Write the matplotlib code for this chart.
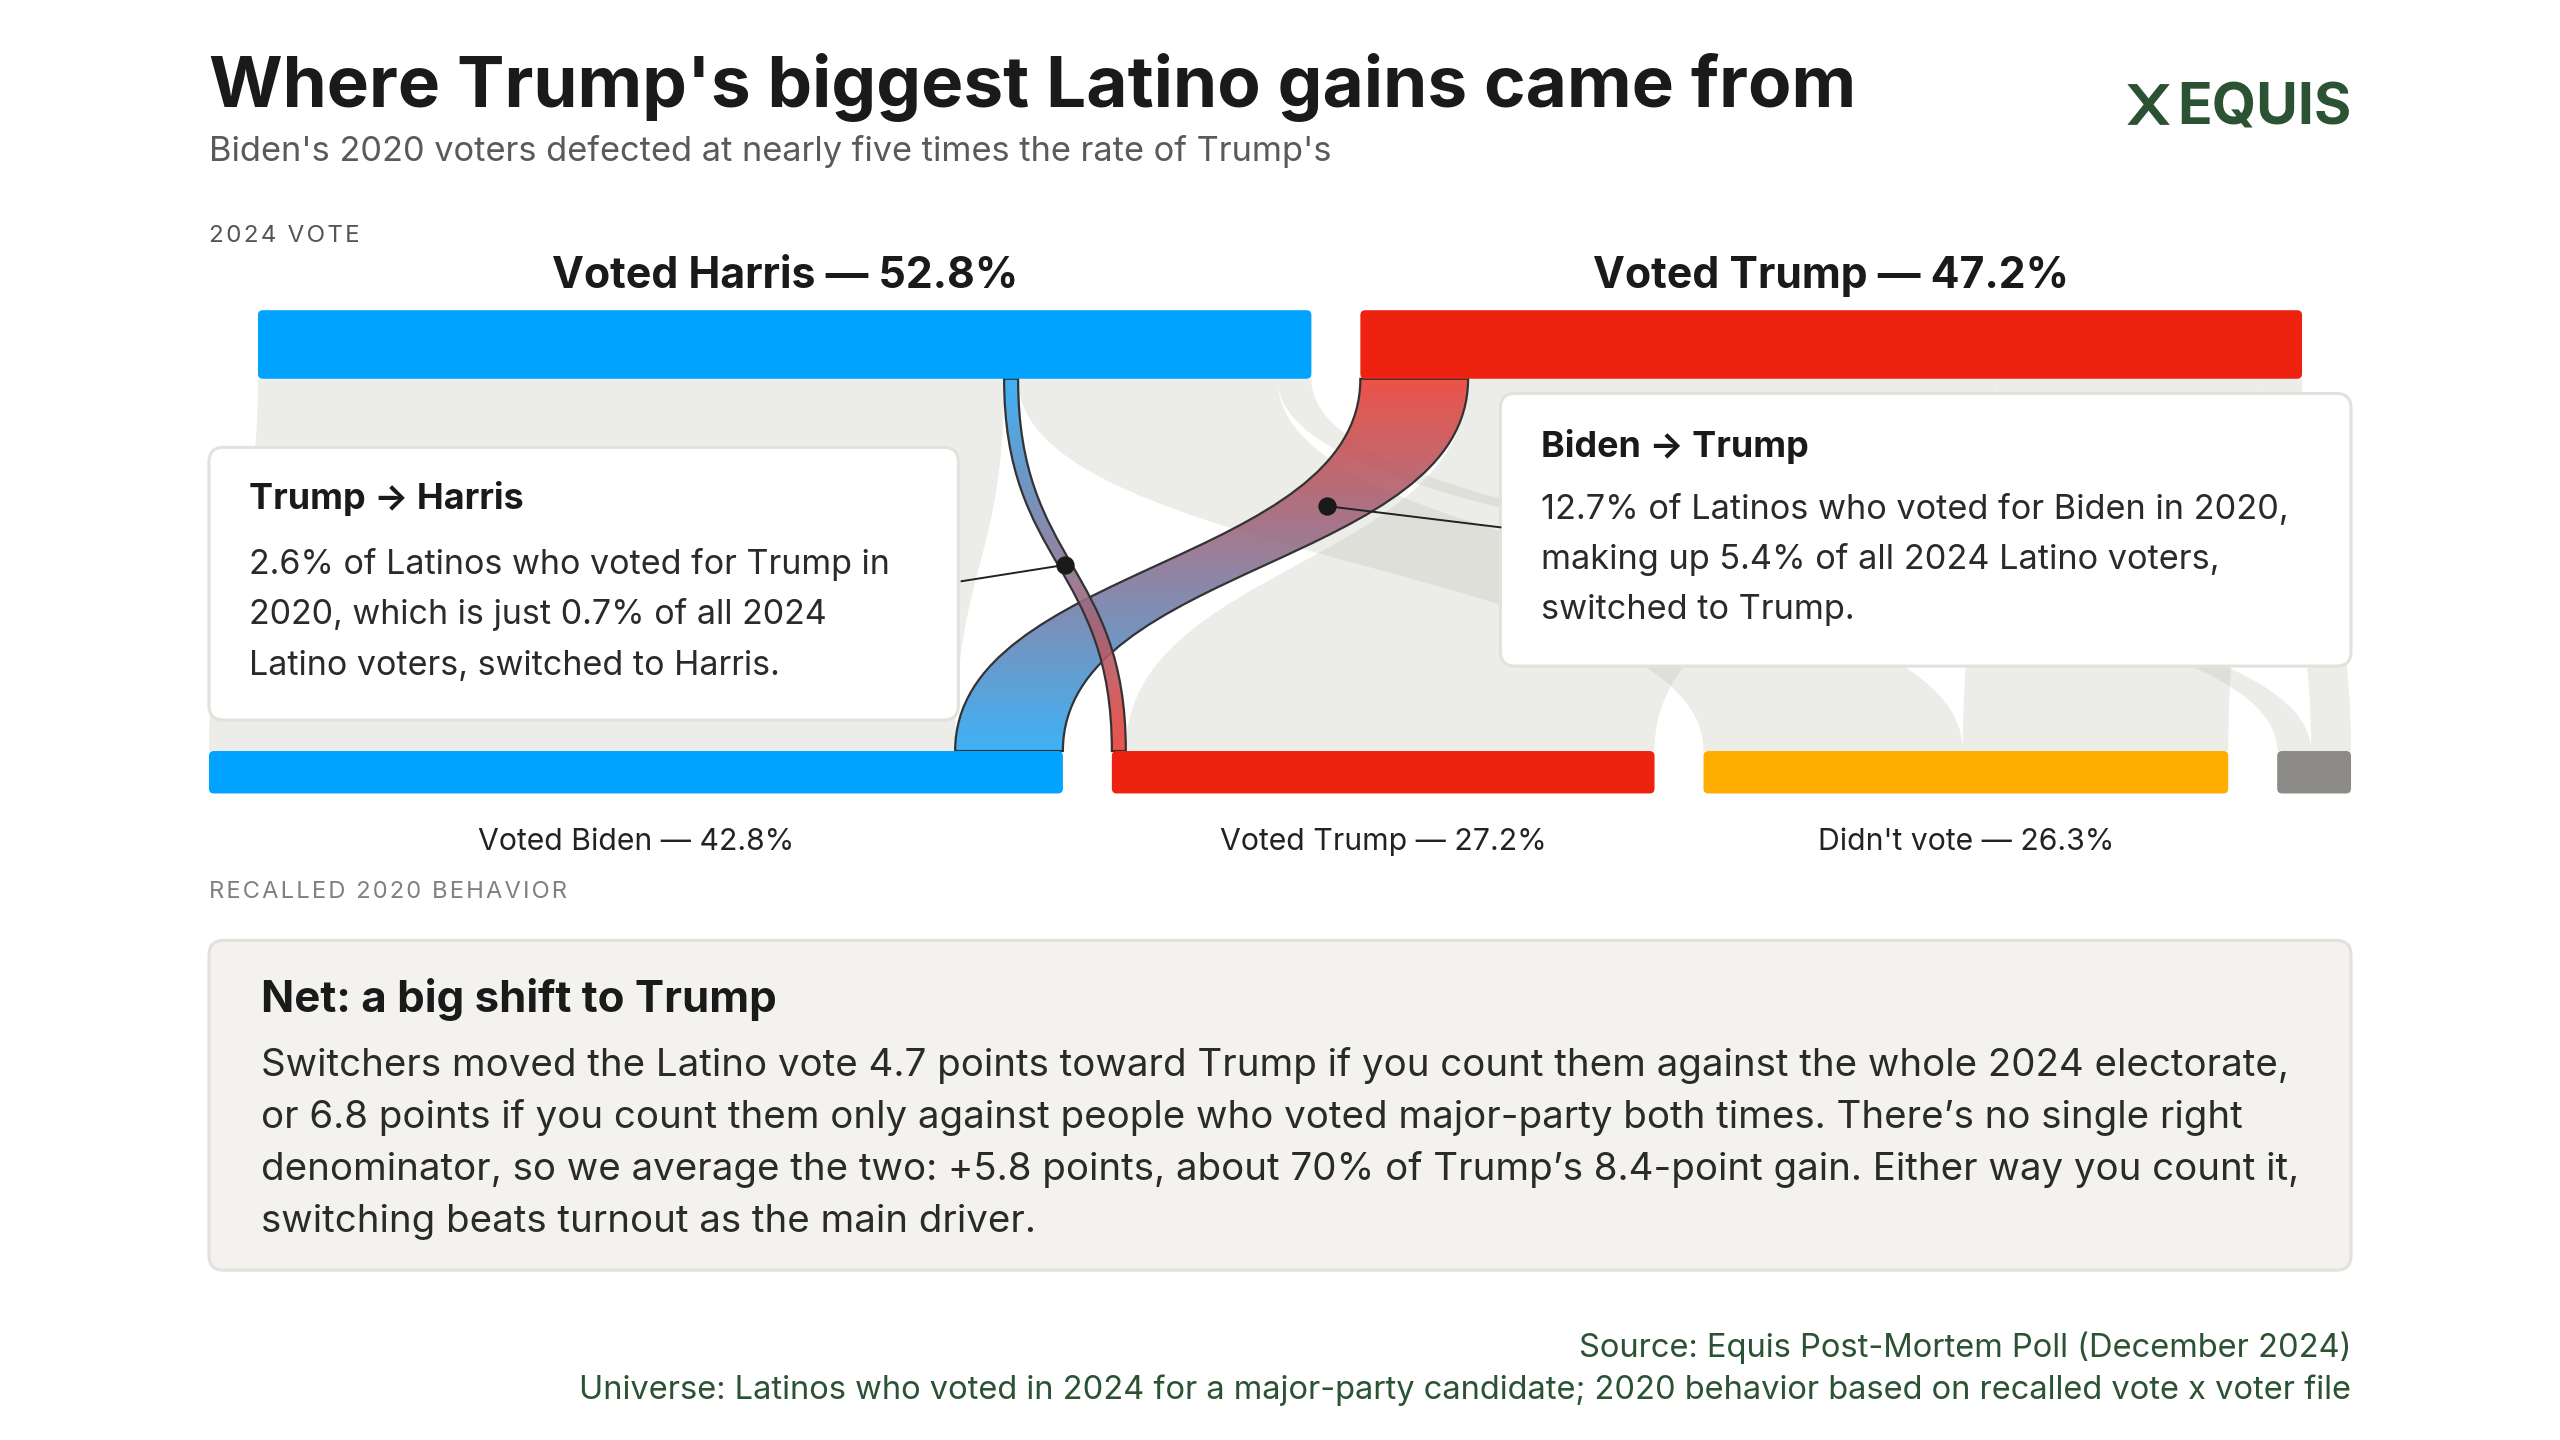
import numpy as np
import matplotlib
matplotlib.use("Agg")
import matplotlib.pyplot as plt
from matplotlib.path import Path
from matplotlib.patches import PathPatch, FancyBboxPatch, Polygon
from matplotlib.colors import to_rgb

plt.rcParams['font.family'] = ['Inter', 'DejaVu Sans']

# ---- data -------------------------------------------------------------
nodes_2020 = ["Voted Biden", "Voted Trump", "Didn't vote", "Other"]
share_2020 = [42.8, 27.2, 26.3, 3.7]
colors_2020 = ['#00a3ff', '#ee2211', '#ffae00', '#8c8b87']
show_label_2020 = [True, True, True, False]

nodes_2024 = ["Voted Harris", "Voted Trump"]
share_2024 = [52.8, 47.2]
colors_2024 = ['#00a3ff', '#ee2211']

# flows from each 2020 group (same order as nodes_2020)
to_harris = [37.4, 0.7, 13.0, 1.7]
to_trump = [5.4, 26.5, 13.3, 2.0]

# ---- canvas in "reference pixels" (1568 x 882) --------------------------
W, H = 1568, 882
PT = 2560 / W * 72 / 100          # points per reference pixel at dpi 100

fig = plt.figure(figsize=(25.6, 14.4), dpi=100)
ax = fig.add_axes([0, 0, 1, 1])
ax.set_xlim(0, W)
ax.set_ylim(H, 0)
ax.axis('off')

def fs(px):
    return px * PT

def spaced(s):
    return '\u200a'.join(s)

LEFT, RIGHT = 128, 1440
GAP = 30
UNIT = (RIGHT - LEFT - GAP * (len(share_2020) - 1)) / sum(share_2020)

TOP_Y0, TOP_Y1 = 190, 232      # 2024 bars
BOT_Y0, BOT_Y1 = 460, 486      # 2020 bars

# node positions
bot_x = []
x = LEFT
for s in share_2020:
    bot_x.append(x)
    x += s * UNIT + GAP
top_total = sum(share_2024) * UNIT + GAP * (len(share_2024) - 1)
top_x = []
x = (LEFT + RIGHT) / 2 - top_total / 2
for s in share_2024:
    top_x.append(x)
    x += s * UNIT + GAP

# link geometry
links = []   # (src, dst, b0, b1, t0, t1)
top_cursor = list(top_x)
bot_cursor = list(bot_x)
for i in range(len(share_2020)):
    for j, v in enumerate([to_harris[i], to_trump[i]]):
        w = v * UNIT
        links.append((i, j, bot_cursor[i], bot_cursor[i] + w,
                      top_cursor[j], top_cursor[j] + w))
        bot_cursor[i] += w
        top_cursor[j] += w

def ribbon_path(b0, b1, t0, t1, yb=BOT_Y0, yt=TOP_Y1):
    ym = (yb + yt) / 2
    verts = [(b0, yb), (b0, ym), (t0, ym), (t0, yt),
             (t1, yt), (t1, ym), (b1, ym), (b1, yb), (b0, yb)]
    codes = [Path.MOVETO, Path.CURVE4, Path.CURVE4, Path.CURVE4,
             Path.LINETO, Path.CURVE4, Path.CURVE4, Path.CURVE4, Path.CLOSEPOLY]
    return Path(verts, codes)

def bez_point(b, t_, tt, yb=BOT_Y0, yt=TOP_Y1):
    ym = (yb + yt) / 2
    px = (1 - tt) ** 3 * b + 3 * (1 - tt) ** 2 * tt * b + 3 * (1 - tt) * tt ** 2 * t_ + tt ** 3 * t_
    py = (1 - tt) ** 3 * yb + 3 * (1 - tt) ** 2 * tt * ym + 3 * (1 - tt) * tt ** 2 * ym + tt ** 3 * yt
    return px, py

highlight = {(0, 1): ('#29a9f5', '#ea3f33'), (1, 0): ('#ea3f33', '#29a9f5')}

# grey links
for (i, j, b0, b1, t0, t1) in links:
    if (i, j) in highlight:
        continue
    ax.add_patch(PathPatch(ribbon_path(b0, b1, t0, t1), fc='#c8c8bf',
                           ec='none', alpha=0.34, zorder=1))

# annotation boxes
def card(x0, y0, x1, y1, fc, z):
    ax.add_patch(FancyBboxPatch((x0, y0), x1 - x0, y1 - y0,
                                boxstyle="round,pad=0,rounding_size=9",
                                fc=fc, ec='#e3e1dc', lw=2.2, zorder=z))

card(128, 274, 587, 441, 'white', 2)
card(919, 241, 1440, 408, 'white', 2)

# highlighted links with gradient fill
dots = {}
for (i, j, b0, b1, t0, t1) in links:
    if (i, j) not in highlight:
        continue
    c_bot, c_top = highlight[(i, j)]
    cb, ct = np.array(to_rgb(c_bot)), np.array(to_rgb(c_top))
    f = np.linspace(0, 1, 256)[:, None]
    grad = (cb * (1 - f) + ct * f)[:, None, :]
    z = 3 if (i, j) == (0, 1) else 4
    patch = PathPatch(ribbon_path(b0, b1, t0, t1), fc='none', ec='#333333',
                      lw=1.6, zorder=z + 0.5)
    ax.add_patch(patch)
    im = ax.imshow(grad, extent=(min(b0, t0) - 2, max(b1, t1) + 2, BOT_Y0, TOP_Y1),
                   origin='lower', aspect='auto', alpha=0.9, zorder=z,
                   interpolation='bilinear')
    im.set_clip_path(patch)
    tt = 0.7 if (i, j) == (0, 1) else 0.5
    dots[(i, j)] = bez_point((b0 + b1) / 2, (t0 + t1) / 2, tt)

ax.set_xlim(0, W)
ax.set_ylim(H, 0)

# leader lines and dots
for key, end in [((1, 0), (589, 356)), ((0, 1), (919, 323))]:
    dx, dy = dots[key]
    ax.plot([dx, end[0]], [dy, end[1]], color='#222222', lw=1.4, zorder=6)
    ax.scatter([dx], [dy], s=175, color='#1a1a1a', zorder=7, linewidths=0)

# bars
for k, s in enumerate(share_2024):
    ax.add_patch(FancyBboxPatch((top_x[k], TOP_Y0), s * UNIT, TOP_Y1 - TOP_Y0,
                                boxstyle="round,pad=0,rounding_size=3",
                                fc=colors_2024[k], ec='none', zorder=5))
    ax.text(top_x[k] + s * UNIT / 2, 176.5, f"{nodes_2024[k]} \u2014 {s}%",
            ha='center', va='baseline', fontsize=fs(26.2), fontweight='bold',
            color='#1a1a1a')
for k, s in enumerate(share_2020):
    ax.add_patch(FancyBboxPatch((bot_x[k], BOT_Y0), s * UNIT, BOT_Y1 - BOT_Y0,
                                boxstyle="round,pad=0,rounding_size=3",
                                fc=colors_2020[k], ec='none', zorder=5))
    if show_label_2020[k]:
        ax.text(bot_x[k] + s * UNIT / 2, 520.5, f"{nodes_2020[k]} \u2014 {s}%",
                ha='center', va='baseline', fontsize=fs(18.5), color='#222222')

# axis captions
ax.text(LEFT, 148, spaced("2024 VOTE"), ha='left', va='baseline',
        fontsize=fs(14.8), color='#555555')
ax.text(LEFT, 550, spaced("RECALLED 2020 BEHAVIOR"), ha='left', va='baseline',
        fontsize=fs(14.5), color='#808080')

# box texts
ax.text(152.5, 312, "Trump \u2192 Harris", ha='left', va='baseline',
        fontsize=fs(22), fontweight='bold', color='#1a1a1a', zorder=8)
for n, line in enumerate(["2.6% of Latinos who voted for Trump in",
                          "2020, which is just 0.7% of all 2024",
                          "Latino voters, switched to Harris."]):
    ax.text(152.5, 351.5 + 31 * n, line, ha='left', va='baseline',
            fontsize=fs(20.85), color='#2a2a2a', zorder=8)

ax.text(944, 280, "Biden \u2192 Trump", ha='left', va='baseline',
        fontsize=fs(22), fontweight='bold', color='#1a1a1a', zorder=8)
for n, line in enumerate(["12.7% of Latinos who voted for Biden in 2020,",
                          "making up 5.4% of all 2024 Latino voters,",
                          "switched to Trump."]):
    ax.text(944, 318 + 30.5 * n, line, ha='left', va='baseline',
            fontsize=fs(21), color='#2a2a2a', zorder=8)

# title block
ax.text(LEFT, 65.3, "Where Trump's biggest Latino gains came from", ha='left',
        va='baseline', fontsize=fs(43.5), fontweight='bold', color='#1a1a1a')
ax.text(LEFT, 98.6, "Biden's 2020 voters defected at nearly five times the rate of Trump's",
        ha='left', va='baseline', fontsize=fs(21.05), color='#5a5a5a')

# logo
green = '#2c5234'
lx0, lx1, ly0, ly1 = 1303, 1329, 51.5, 76.5
th = 6
ax.add_patch(Polygon([(lx0, ly0), (lx0 + th, ly0), (lx1, ly1), (lx1 - th, ly1)],
                     closed=True, fc=green, ec='none'))
ax.add_patch(Polygon([(lx1, ly0), (lx1 - th, ly0), (lx0, ly1), (lx0 + th, ly1)],
                     closed=True, fc=green, ec='none'))
ax.text(RIGHT, 76.5, "EQUIS", ha='right', va='baseline', fontsize=fs(35),
        fontweight='bold', color=green)

# net card
card(128, 576, 1440, 778, '#f3f2ef', 1)
ax.text(160, 619.7, "Net: a big shift to Trump", ha='left', va='baseline',
        fontsize=fs(26.8), fontweight='bold', color='#1a1a1a', zorder=8)
net_lines = [
    "Switchers moved the Latino vote 4.7 points toward Trump if you count them against the whole 2024 electorate,",
    "or 6.8 points if you count them only against people who voted major-party both times. There\u2019s no single right",
    "denominator, so we average the two: +5.8 points, about 70% of Trump\u2019s 8.4-point gain. Either way you count it,",
    "switching beats turnout as the main driver.",
]
for n, line in enumerate(net_lines):
    ax.text(160, 659 + 31.8 * n, line, ha='left', va='baseline',
            fontsize=fs(23.55), color='#2a2a2a', zorder=8)

# footer
ax.text(RIGHT, 831, "Source: Equis Post-Mortem Poll (December 2024)", ha='right',
        va='baseline', fontsize=fs(20.0), color=green)
ax.text(RIGHT, 857, "Universe: Latinos who voted in 2024 for a major-party candidate; "
        "2020 behavior based on recalled vote x voter file", ha='right',
        va='baseline', fontsize=fs(20.0), color=green)

fig.savefig('out.png', dpi=100, facecolor='white')
